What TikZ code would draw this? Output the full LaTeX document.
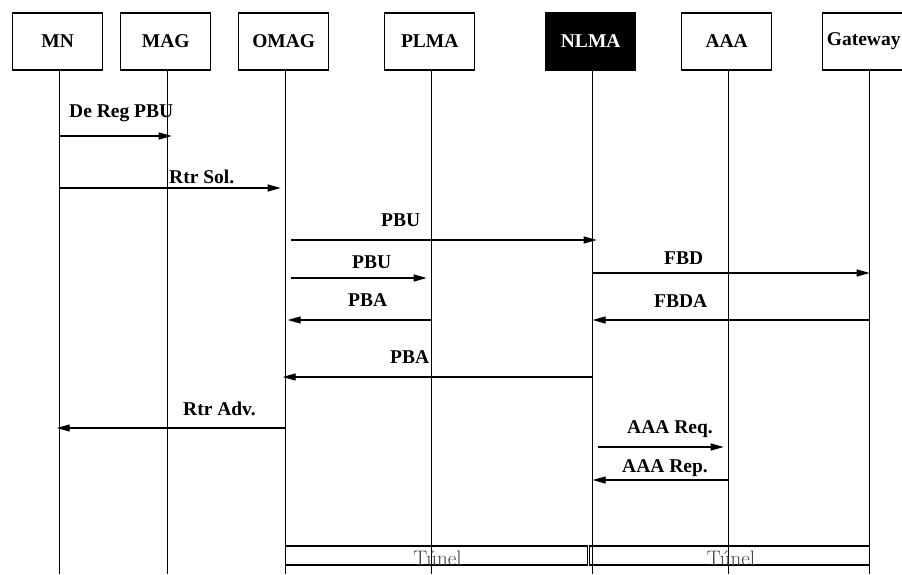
\documentclass[tikz,border=0pt]{standalone}
\usepackage{fontspec}
\newfontfamily\labelfont{Liberation Serif}
\usepackage{tikz}
\usetikzlibrary{arrows.meta,positioning,calc}
\tikzset{
  actor/.style={draw,line width=1.3pt,minimum width=90pt,minimum height=57pt,%
    inner sep=0pt,outer sep=0pt,font=\labelfont\bfseries\fontsize{19.5}{20}\selectfont},
  actorhl/.style={actor,fill=black,text=white},
  life/.style={line width=1.2pt},
  msg/.style={-{Triangle[length=13pt,width=7pt]},line width=1.2pt},
  msglabel/.style={anchor=base west,inner sep=0pt,%
    font=\labelfont\bfseries\fontsize{19.5}{20}\selectfont},
  tunbox/.style={line width=1.2pt},
  tunlabel/.style={anchor=base,inner sep=0pt,text=black!75,font=\fontsize{21}{22}\selectfont},
}

\begin{document}
\begin{tikzpicture}[x=1pt,y=-1pt]
\useasboundingbox (0,0) rectangle (902,574);
\clip (0,0) rectangle (902,574);
% entities
\node[actor] (mn) at (57.7,41.5) {MN};
\node[actor,right=18pt of mn] (mag) {MAG};
\node[actor,right=28pt of mag] (omag) {OMAG};
\node[actor,right=56pt of omag] (plma) {PLMA};
\node[actorhl,right=71pt of plma] (nlma) {NLMA};
\node[actor,right=46pt of nlma] (aaa) {AAA};
\node[actor,right=51pt of aaa] (gw) {\kern-8pt Gateway};
% lifelines
\coordinate (bottom) at (0,574);
\foreach \n in {mn,mag,omag,plma,nlma,aaa,gw} {
  \coordinate (l\n) at ($(\n.south)+(2,0)$);
  \draw[life] (l\n) -- (l\n |- bottom);
}
% messages
\draw[msg,shorten >=-4pt] (lmn |- 0,136) -- (lmag |- 0,136);
\node[msglabel] (dereg) at (69,117) {De Reg PBU};
\draw[msg,shorten >=5pt] (lmn |- 0,188) -- (lomag |- 0,188);
\node[msglabel] (rtrsol) at (169,183) {Rtr Sol.};
\draw[msg,shorten <=5pt,shorten >=-4pt] (lomag |- 0,240) -- (lnlma |- 0,240);
\node[msglabel] (pbua) at (381,226) {PBU};
\draw[msg] (lnlma |- 0,273) -- (lgw |- 0,273);
\node[msglabel] (fbd) at (664,264) {FBD};
\draw[msg,shorten <=5pt,shorten >=5pt] (lomag |- 0,278) -- (lplma |- 0,278);
\node[msglabel] (pbub) at (352,268) {PBU};
\draw[msg] (lgw |- 0,320) -- (lnlma |- 0,320);
\node[msglabel] (fbda) at (654,307) {FBDA};
\draw[msg,shorten >=2pt] (lplma |- 0,320) -- (lomag |- 0,320);
\node[msglabel] (pbaa) at (348,306) {PBA};
\draw[msg,shorten >=-3pt] (lnlma |- 0,377) -- (lomag |- 0,377);
\node[msglabel] (pbab) at (390,363) {PBA};
\draw[msg,shorten >=-3pt] (lomag |- 0,428) -- (lmn |- 0,428);
\node[msglabel] (rtradv) at (183,415) {Rtr Adv.};
\draw[msg,shorten <=5pt,shorten >=5pt] (lnlma |- 0,447) -- (laaa |- 0,447);
\node[msglabel] (aaareq) at (627,433) {AAA Req.};
\draw[msg] (laaa |- 0,480) -- (lnlma |- 0,480);
\node[msglabel] (aaarep) at (622,472) {AAA Rep.};
% tunnels
\draw[tunbox] (lomag |- 0,546) rectangle ($(lnlma |- 0,565)-(5,0)$);
\draw[tunbox] ($(lnlma |- 0,546)-(3,0)$) rectangle (lgw |- 0,565);
\node[tunlabel] (tuna) at (437.5,565) {Túnel};
\node[tunlabel] (tunb) at (731,565) {Túnel};
\end{tikzpicture}
\end{document}
